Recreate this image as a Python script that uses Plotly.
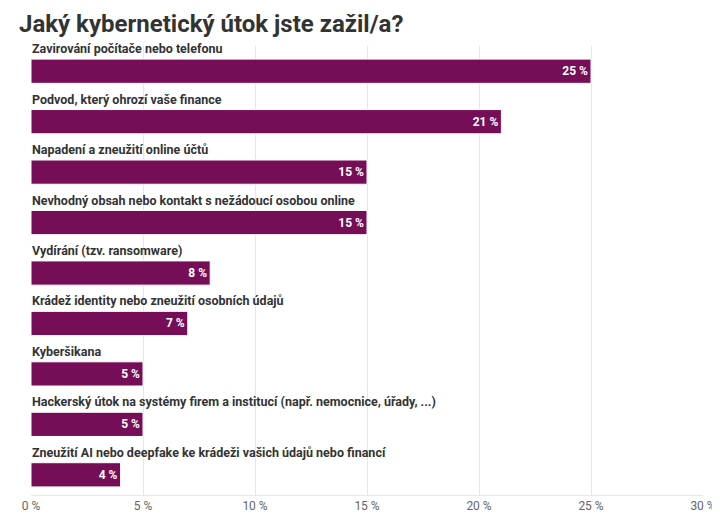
import plotly.graph_objects as go

categories = ["Zavirování počítače nebo telefonu",
    "Podvod, který ohrozí vaše finance",
    "Napadení a zneužití online účtů",
    "Nevhodný obsah nebo kontakt s nežádoucí osobou online",
    "Vydírání (tzv. ransomware)",
    "Krádež identity nebo zneužití osobních údajů",
    "Kyberšikana",
    "Hackerský útok na systémy firem a institucí (např. nemocnice, úřady, ...)",
    "Zneužití AI nebo deepfake ke krádeži vašich údajů nebo financí"]
values = [25, 21, 15, 15, 8, 7, 5, 5, 4]
ticks = [0, 5, 10, 15, 20, 25, 30]
tick_labels = ["0 %", "5 %", "10 %", "15 %", "20 %", "25 %", "30 %"]

color = "#760d57"
idx = list(range(len(categories)))
fig = go.Figure(go.Bar(x=values, y=idx, orientation="h", width=0.48,
    marker=dict(color=color, line=dict(color="white", width=1)),
    text=[f"{v} %" for v in values], textposition="inside", insidetextanchor="end",
    textfont=dict(family="Roboto", size=12, color="white", weight="bold"),
    hoverinfo="skip"))
for i, c in zip(idx, categories):
    fig.add_annotation(x=0, y=i, xref="x", yref="y", text=c, showarrow=False,
        xanchor="left", yanchor="bottom", yshift=13, xshift=-1,
        font=dict(family="Roboto", size=12.5, color="#333333", weight="bold"))
fig.add_annotation(x=0, y=1, xref="paper", yref="paper", text="Jaký kybernetický útok jste zažil/a?",
    showarrow=False, xanchor="left", yanchor="bottom", yshift=6, xshift=-14,
    font=dict(family="Roboto", size=24, color="#333333", weight="bold"))
fig.update_layout(width=720, height=525, margin=dict(l=23, r=25, t=38, b=38, autoexpand=False),
    plot_bgcolor="white", paper_bgcolor="white", showlegend=False,
    xaxis=dict(range=[0, 30], tickvals=ticks, ticktext=tick_labels, showgrid=True, automargin=False,
        gridcolor="#e6e6e6", zeroline=False, tickfont=dict(family="Roboto", size=12, color="#666666"),
        ticks="", showline=True, linecolor="#e6e6e6"),
    yaxis=dict(range=[8.4, -0.5], showticklabels=False, showgrid=False, zeroline=False, automargin=False))
fig.write_html("out.html")
